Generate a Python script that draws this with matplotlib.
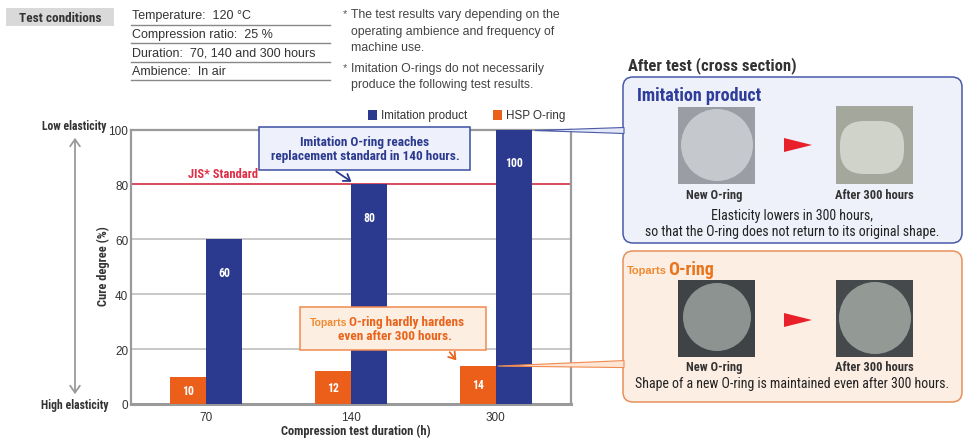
import matplotlib
matplotlib.use('Agg')
import numpy as np
import matplotlib.pyplot as plt
from matplotlib import font_manager
from matplotlib.patches import Rectangle, FancyBboxPatch, Circle, Polygon

names = set(f.name for f in font_manager.fontManager.ttflist)
NARROW = 'Liberation Sans'
NS = 0.86  # shrink when no narrow face is around
for cand in ['Roboto Condensed', 'Liberation Sans Narrow', 'Archivo Narrow', 'Barlow Semi Condensed']:
    if cand in names:
        NARROW = cand
        NS = 1.0
        break
SANS = 'Liberation Sans' if 'Liberation Sans' in names else 'DejaVu Sans'
plt.rcParams['font.family'] = [SANS, 'DejaVu Sans']

# data
durations = ['70', '140', '300']
imitation = [60, 80, 100]
hsp = [10, 12, 14]
jis_standard = 80
yticks = [0, 20, 40, 60, 80, 100]

conditions = ['Temperature:  120 °C', 'Compression ratio:  25 %',
              'Duration:  70, 140 and 300 hours', 'Ambience:  In air']

NAVY = '#2b3a8f'
ORANGE = '#ec5f1a'
RED = '#e02c44'
GRAY = '#9a9a9a'


def nb(size):
    return dict(family=[NARROW, 'DejaVu Sans'], fontweight='bold', fontsize=size * NS)


def nr(size):
    return dict(family=[NARROW, 'DejaVu Sans'], fontsize=size * NS)


fig = plt.figure(figsize=(9.76, 4.39), dpi=100)
W, H = 976, 439

# main chart axes placed in pixel space
L, R, T, B = 131, 571, 130.5, 405
ax = fig.add_axes([L / W, (H - B) / H, (R - L) / W, (B - T) / H])
x = np.arange(len(durations))
w = 0.25
ax.bar(x - w / 2, hsp, w, color=ORANGE, zorder=3)
ax.bar(x + w / 2, imitation, w, color=NAVY, zorder=3)
ax.set_xlim(-0.52, 2.52)
ax.set_ylim(0, 100)
ax.set_yticks(yticks)
ax.set_yticklabels([str(v) for v in yticks], fontsize=8.5, color='#333333')
ax.set_xticks(x)
ax.set_xticklabels(durations, fontsize=8.5, color='#333333')
ax.tick_params(axis='y', length=0, pad=2)
ax.tick_params(axis='x', length=0, pad=5)
for v in yticks[1:-1]:
    ax.axhline(v, color='#c8c8c8', lw=1.4, zorder=1)
ax.axhline(jis_standard, color=RED, lw=1.1, zorder=2)
for s in ax.spines.values():
    s.set_color(GRAY)
    s.set_linewidth(1.6)
ax.spines['bottom'].set_linewidth(2.2)
for i in range(len(durations)):
    ax.text(x[i] + w / 2, imitation[i] - 12, str(imitation[i]), ha='center', va='center',
            color='white', zorder=4, **nb(8.5))
    ax.text(x[i] - w / 2, hsp[i] * 0.5, str(hsp[i]), ha='center', va='center',
            color='white', zorder=4, **nb(8.5))
ax.text(-0.125, jis_standard + 1.5, 'JIS* Standard', color=RED, va='bottom', ha='left', **nb(9))

# overlay in pixel coordinates
ov = fig.add_axes([0, 0, 1, 1], zorder=5)
ov.set_xlim(0, W)
ov.set_ylim(H, 0)
ov.axis('off')
ov.patch.set_alpha(0)


def to_px(xd, yd):
    dx, dy = ax.transData.transform((xd, yd))
    return ov.transData.inverted().transform((dx, dy))


# axis titles
ov.text(356, 431, 'Compression test duration (h)', ha='center', va='center',
        color='#333333', **nb(9))
ov.text(103, 266, 'Cure degree (%)', ha='center', va='center', rotation=90,
        color='#333333', **nb(9))

# test conditions
ov.add_patch(Rectangle((6, 9), 108, 18, color='#d9d9d9', lw=0))
ov.text(60, 18, 'Test conditions', ha='center', va='center', color='#333333', **nb(9.5))
rows_y = [16, 35, 53, 72]
lines_y = [26, 44, 63, 81]
for txt, ty, ly in zip(conditions, rows_y, lines_y):
    ov.text(132, ty, txt, va='center', ha='left', fontsize=9, color='#333333')
    ov.plot([131, 330], [ly, ly], color='#888888', lw=1)

notes = [('*', 'The test results vary depending on the', 15),
         ('', 'operating ambience and frequency of', 32),
         ('', 'machine use.', 48),
         ('*', 'Imitation O-rings do not necessarily', 69),
         ('', 'produce the following test results.', 85)]
for star, txt, ty in notes:
    if star:
        ov.text(343, ty - 1, star, va='center', ha='left', fontsize=8, color='#555555')
    ov.text(351, ty, txt, va='center', ha='left', fontsize=8.8, color='#444444')

# legend
ov.add_patch(Rectangle((368, 111), 9, 10, color=NAVY, lw=0))
ov.text(381, 116, 'Imitation product', va='center', fontsize=8.4, color='#333333')
ov.add_patch(Rectangle((493, 111), 9, 10, color=ORANGE, lw=0))
ov.text(506, 116, 'HSP O-ring', va='center', fontsize=8.4, color='#333333')

# elasticity arrow
ov.text(74, 127, 'Low elasticity', ha='center', va='center', color='#333333', **nb(8.5))
ov.text(75, 406, 'High elasticity', ha='center', va='center', color='#333333', **nb(8.5))
ov.annotate('', xy=(75, 136), xytext=(75, 398),
            arrowprops=dict(arrowstyle='<->,head_length=0.5,head_width=0.35',
                            color=GRAY, lw=1.3))

# callout 1
ov.add_patch(Rectangle((259, 128), 211, 43, facecolor='#eef1fb', edgecolor='#3a4fa0',
                       lw=1.1, zorder=6))
ov.text(365, 143, 'Imitation O-ring reaches', ha='center', va='center',
        color=NAVY, zorder=7, **nb(9.5))
ov.text(365, 157, 'replacement standard in 140 hours.', ha='center', va='center',
        color=NAVY, zorder=7, **nb(9.5))
tip1 = to_px(x[1] + 0.02, imitation[1])
ov.annotate('', xy=(tip1[0], tip1[1] - 1), xytext=(334, 171),
            arrowprops=dict(arrowstyle='->,head_length=0.45,head_width=0.3',
                            color=NAVY, lw=1.3))

# callout 2
ov.add_patch(Rectangle((300, 308), 186, 43, facecolor='#fdeee2', edgecolor='#f08a50',
                       lw=1.1, zorder=6))
ov.text(347, 323, 'Toparts', ha='right', va='center', fontsize=7.5,
        fontweight='bold', color='#f08a30', zorder=7)
ov.text(349, 323, 'O-ring hardly hardens', ha='left', va='center',
        color='#e8641c', zorder=7, **nb(9.5))
ov.text(395, 337, 'even after 300 hours.', ha='center', va='center',
        color='#e8641c', zorder=7, **nb(9.5))
tip2 = to_px(x[2] - w - 0.01, hsp[2])
ov.annotate('', xy=(tip2[0], tip2[1] - 3), xytext=(448, 351),
            arrowprops=dict(arrowstyle='->,head_length=0.45,head_width=0.3',
                            color='#e8641c', lw=1.3))

# connector wedges to the panels
p1 = to_px(x[2] + w, imitation[2])
ov.add_patch(Polygon([(p1[0] + 3, p1[1] + 1), (624, p1[1] - 2), (624, p1[1] + 4)],
                     closed=True, facecolor='#e3e7f6', edgecolor='#4a5aa8', lw=0.8, zorder=4))
p2 = to_px(x[2], hsp[2])
ov.add_patch(Polygon([(p2[0] + 2, p2[1] + 0.5), (624, p2[1] - 5), (624, p2[1] + 2)],
                     closed=True, facecolor='#fde6d6', edgecolor='#f08a50', lw=0.8, zorder=4))

# right panels
ov.text(628, 66, 'After test (cross section)', ha='left', va='center',
        color='#333333', **nb(12))

ov.add_patch(FancyBboxPatch((623, 78), 339, 166, boxstyle='round,pad=0,rounding_size=10',
                            facecolor='#eef0fa', edgecolor='#4a5aa8', lw=1.1))
ov.text(637, 96, 'Imitation product', ha='left', va='center', color='#2e3d99', **nb(13))
ov.add_patch(Rectangle((678, 108), 77, 77, color='#9a9ea4', lw=0))
ov.add_patch(Circle((717, 146), 36, color='#c5c9cd', lw=0))
ov.add_patch(Rectangle((836, 107), 77, 78, color='#a3a79c', lw=0))
ov.add_patch(FancyBboxPatch((840, 122), 64, 53, boxstyle='round,pad=0,rounding_size=24',
                            color='#cfd3c9', lw=0))
ov.add_patch(Polygon([(784, 139), (784, 153), (812, 146)], closed=True, color='#e8202a', lw=0))
ov.text(714, 196, 'New O-ring', ha='center', va='center', color='#333333', **nb(9))
ov.text(874, 196, 'After 300 hours', ha='center', va='center', color='#333333', **nb(9))
ov.text(792, 216, 'Elasticity lowers in 300 hours,', ha='center', va='center',
        color='#222222', **nr(10))
ov.text(792, 232, 'so that the O-ring does not return to its original shape.', ha='center',
        va='center', color='#222222', **nr(10))

ov.add_patch(FancyBboxPatch((623, 252), 339, 151, boxstyle='round,pad=0,rounding_size=10',
                            facecolor='#fdeee4', edgecolor='#e8905a', lw=1.1))
ov.text(627, 271, 'Toparts', ha='left', va='center', fontsize=8,
        fontweight='bold', color='#f08a30')
ov.text(668, 270, 'O-ring', ha='left', va='center', color='#e8741c', **nb(13))
ov.add_patch(Rectangle((678, 281), 77, 77, color='#3f4346', lw=0))
ov.add_patch(Circle((717, 318), 34, color='#8c9390', lw=0))
ov.add_patch(Rectangle((836, 281), 77, 77, color='#45494c', lw=0))
ov.add_patch(Circle((875, 319), 36, color='#939a96', lw=0))
ov.add_patch(Polygon([(784, 314), (784, 328), (812, 321)], closed=True, color='#e8202a', lw=0))
ov.text(714, 368, 'New O-ring', ha='center', va='center', color='#333333', **nb(9))
ov.text(874, 368, 'After 300 hours', ha='center', va='center', color='#333333', **nb(9))
ov.text(792, 384, 'Shape of a new O-ring is maintained even after 300 hours.', ha='center',
        va='center', color='#222222', **nr(10))

fig.savefig('out.png', dpi=100)
